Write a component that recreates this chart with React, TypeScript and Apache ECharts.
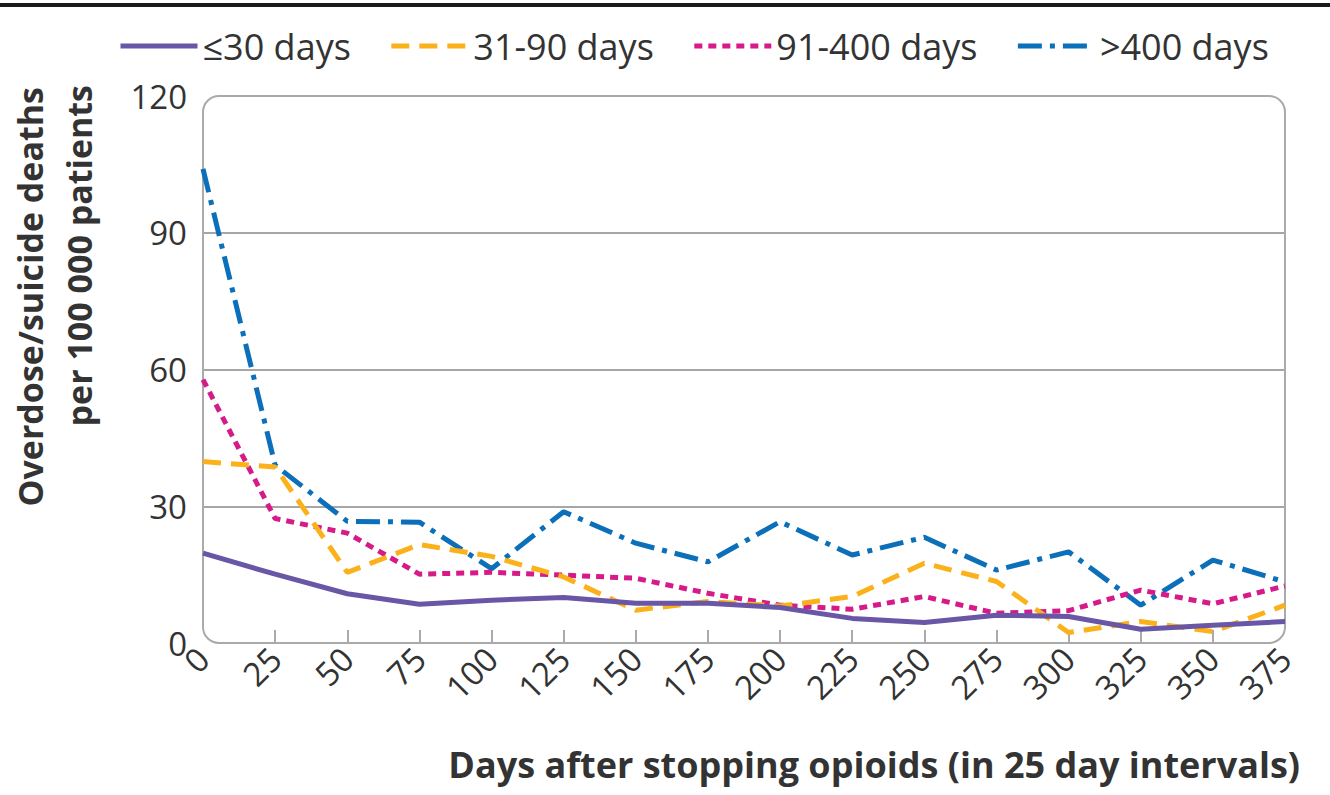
import React, { useEffect, useRef } from "react";
import * as echarts from "echarts";

const days = ["0", "25", "50", "75", "100", "125", "150", "175", "200", "225", "250", "275", "300", "325", "350", "375"];
const le30 = [19.7, 15.1, 10.8, 8.5, 9.4, 10.0, 8.7, 8.7, 7.8, 5.4, 4.5, 6.1, 5.8, 3.0, 3.9, 4.7];
const d31to90 = [39.8, 38.6, 15.5, 21.6, 19.0, 14.5, 7.2, 9.1, 8.1, 10.2, 17.5, 13.5, 2.3, 4.7, 2.5, 8.3];
const d91to400 = [57.8, 27.3, 24.1, 15.1, 15.5, 14.9, 14.2, 10.9, 8.3, 7.4, 10.2, 6.5, 7.1, 11.6, 8.6, 12.5];
const gt400 = [104.0, 39.0, 26.7, 26.5, 16.3, 28.8, 21.9, 17.8, 26.6, 19.3, 23.2, 16.0, 20.0, 8.3, 18.2, 13.4];
const seriesNames = ["≤30 days", "31-90 days", "91-400 days", ">400 days"];
const yTicks = [0, 30, 60, 90, 120];

const FONT = "'Open Sans', 'Noto Sans', sans-serif";

export default function App() {
  const ref = useRef<HTMLDivElement>(null);
  useEffect(() => {
    if (!ref.current) return;
    const chart = echarts.init(ref.current, undefined, { renderer: "svg" });
    const left = 203, right = 1285, top = 96, bottom = 643;
    const mk = (name: string, data: number[], color: string, type: any, z: number) => ({
      name,
      type: "line",
      data,
      symbol: "none",
      z,
      lineStyle: { color, width: 5, type, cap: "butt" },
      itemStyle: { color },
    });
    chart.setOption({
      animation: false,
      textStyle: { fontFamily: FONT },
      legend: {
        top: 23,
        left: 113,
        itemWidth: 77,
        itemHeight: 14,
        itemGap: 38,
        itemStyle: { opacity: 0 },
        lineStyle: { width: 5 },
        textStyle: { fontSize: 36, color: "#333", fontFamily: FONT },
        data: seriesNames,
      },
      grid: { left, right: 1330 - right, top, bottom: 795 - bottom, containLabel: false },
      xAxis: {
        type: "category",
        data: days,
        boundaryGap: false,
        axisLine: { show: false },
        axisTick: {
          show: true,
          inside: true,
          length: 13,
          interval: (i: number) => i > 0 && i < days.length - 1,
          lineStyle: { color: "#aaa", width: 2 },
        },
        axisLabel: { rotate: 45, fontSize: 33, color: "#333", margin: 10, fontFamily: FONT, interval: 0 },
      },
      yAxis: {
        type: "value",
        min: yTicks[0],
        max: yTicks[yTicks.length - 1],
        interval: 30,
        axisLine: { show: false },
        axisTick: { show: false },
        axisLabel: { fontSize: 33, color: "#333", margin: 16, fontFamily: FONT },
        splitLine: {
          show: true,
          lineStyle: { color: ["transparent", "#a6a6a6", "#a6a6a6", "#a6a6a6", "transparent"], width: 2 },
        },
      },
      graphic: [
        { type: "rect", left: 0, top: 3, shape: { width: 1330, height: 4 }, style: { fill: "#1a1a1a" }, silent: true },
        {
          type: "rect",
          x: left,
          y: top,
          shape: { width: right - left, height: bottom - top, r: 16 },
          style: { fill: "none", stroke: "#aaa", lineWidth: 2 },
          z: 1,
          silent: true,
        },
        {
          type: "text",
          x: 30,
          y: 87,
          rotation: Math.PI / 2,
          style: {
            text: "Overdose/suicide deaths",
            font: `bold 34px ${FONT}`,
            fill: "#333",
            textAlign: "right",
            textVerticalAlign: "middle",
          },
        },
        {
          type: "text",
          x: 79,
          y: 85,
          rotation: Math.PI / 2,
          style: {
            text: "per 100 000 patients",
            font: `bold 34px ${FONT}`,
            fill: "#333",
            textAlign: "right",
            textVerticalAlign: "middle",
          },
        },
        {
          type: "text",
          x: 1300,
          y: 764,
          style: {
            text: "Days after stopping opioids (in 25 day intervals)",
            font: `bold 36px ${FONT}`,
            fill: "#333",
            textAlign: "right",
            textVerticalAlign: "middle",
          },
        },
      ],
      series: [
        mk(seriesNames[0], le30, "#6a56a6", "solid", 5),
        mk(seriesNames[1], d31to90, "#fbb11a", [18, 10], 4),
        mk(seriesNames[2], d91to400, "#d61a8a", [8, 6], 3),
        mk(seriesNames[3], gt400, "#0b6fba", [24, 8, 5, 8], 2),
      ],
    });
    return () => chart.dispose();
  }, []);
  return <div ref={ref} style={{ position: "fixed", left: 0, top: 0, width: 1330, height: 795, background: "#fff" }} />;
}
